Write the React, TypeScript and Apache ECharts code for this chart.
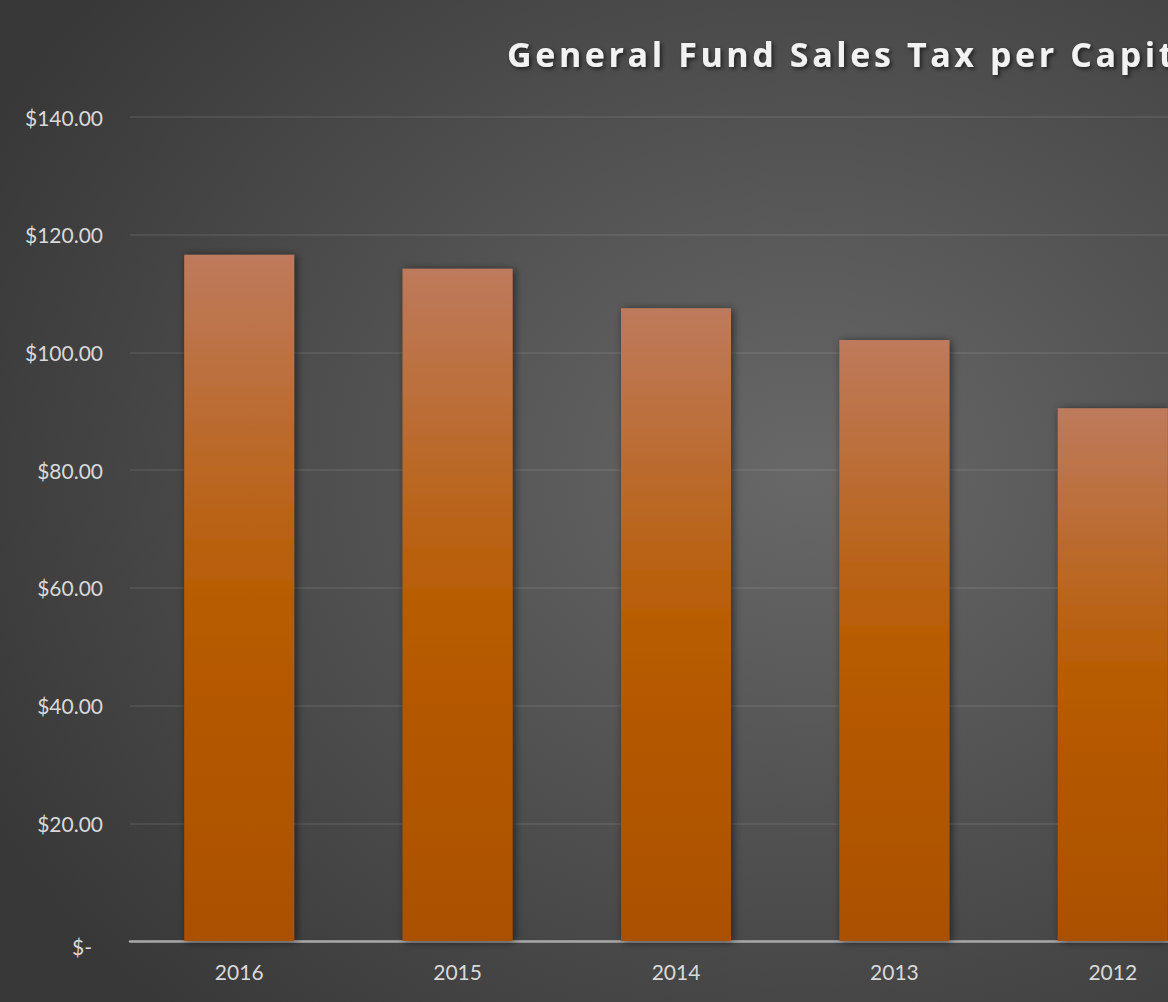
import React, { useEffect, useRef } from "react";
import * as echarts from "echarts";

const TITLE = "General Fund Sales Tax per Capita";
const categories = ["2016", "2015", "2014", "2013", "2012"];
const salesTaxPerCapita = [116.6, 114.2, 107.5, 102.1, 90.5];
const yTicks = { min: 0, max: 140, interval: 20 };

function formatMoney(v: number): string {
  if (v === 0) return "{z|$-}";
  return "$" + v.toFixed(2);
}

export default function App() {
  const ref = useRef<HTMLDivElement>(null);
  useEffect(() => {
    document.body.style.margin = "0";
    const chart = echarts.init(ref.current!, null, { renderer: "svg" });
    chart.setOption({
      animation: false,
      backgroundColor: {
        type: "radial",
        x: 0.66,
        y: 0.47,
        r: 0.75,
        colorStops: [
          { offset: 0, color: "#686868" },
          { offset: 1, color: "#383838" },
        ],
      },
      title: {
        text: TITLE,
        left: 502,
        top: 32,
        textStyle: {
          color: "#f2f2f2",
          fontFamily: "Open Sans",
          fontWeight: "bold",
          fontSize: 34,
          textShadowColor: "rgba(0,0,0,0.6)",
          textShadowBlur: 4,
          textShadowOffsetX: 2,
          textShadowOffsetY: 2,
        },
      },
      grid: { left: 130, right: 0, top: 117, bottom: 61, containLabel: false },
      xAxis: {
        type: "category",
        data: categories,
        axisTick: { show: false },
        axisLine: { lineStyle: { color: "#a8a8a8", width: 2.5 } },
        axisLabel: {
          color: "#d9d9d9",
          fontFamily: "Lato",
          fontSize: 21,
          margin: 20,
        },
      },
      yAxis: {
        type: "value",
        min: yTicks.min,
        max: yTicks.max,
        interval: yTicks.interval,
        axisLine: { show: false },
        axisTick: { show: false },
        splitLine: { lineStyle: { color: "rgba(255,255,255,0.1)", width: 1.5 } },
        axisLabel: {
          color: "#d9d9d9",
          fontFamily: "Lato",
          fontSize: 21,
          margin: 27,
          formatter: formatMoney,
          rich: {
            z: {
              color: "#d9d9d9",
              fontFamily: "Lato",
              fontSize: 21,
              padding: [10, 11, 0, 0],
            },
          },
        },
      },
      series: [
        {
          type: "bar",
          data: salesTaxPerCapita,
          barWidth: 110,
          itemStyle: {
            color: {
              type: "linear",
              x: 0,
              y: 0,
              x2: 0,
              y2: 1,
              colorStops: [
                { offset: 0, color: "#BE7A5C" },
                { offset: 0.5, color: "#B85C02" },
                { offset: 1, color: "#AB5000" },
              ],
            },
            shadowColor: "rgba(0,0,0,0.55)",
            shadowBlur: 8,
            shadowOffsetX: 2,
            shadowOffsetY: 1,
          },
        },
      ],
    });
    const spaceTitle = () => {
      const texts = ref.current?.querySelectorAll("text") || [];
      texts.forEach((t) => {
        if (t.textContent === TITLE) {
          (t as SVGTextElement).style.letterSpacing = "3.6px";
        }
      });
    };
    chart.on("finished", spaceTitle);
    const timer = setTimeout(spaceTitle, 50);
    return () => {
      clearTimeout(timer);
      chart.dispose();
    };
  }, []);
  return (
    <div style={{ width: 1168, height: 1002, overflow: "hidden" }}>
      <div ref={ref} style={{ width: 1222, height: 1002 }} />
    </div>
  );
}
